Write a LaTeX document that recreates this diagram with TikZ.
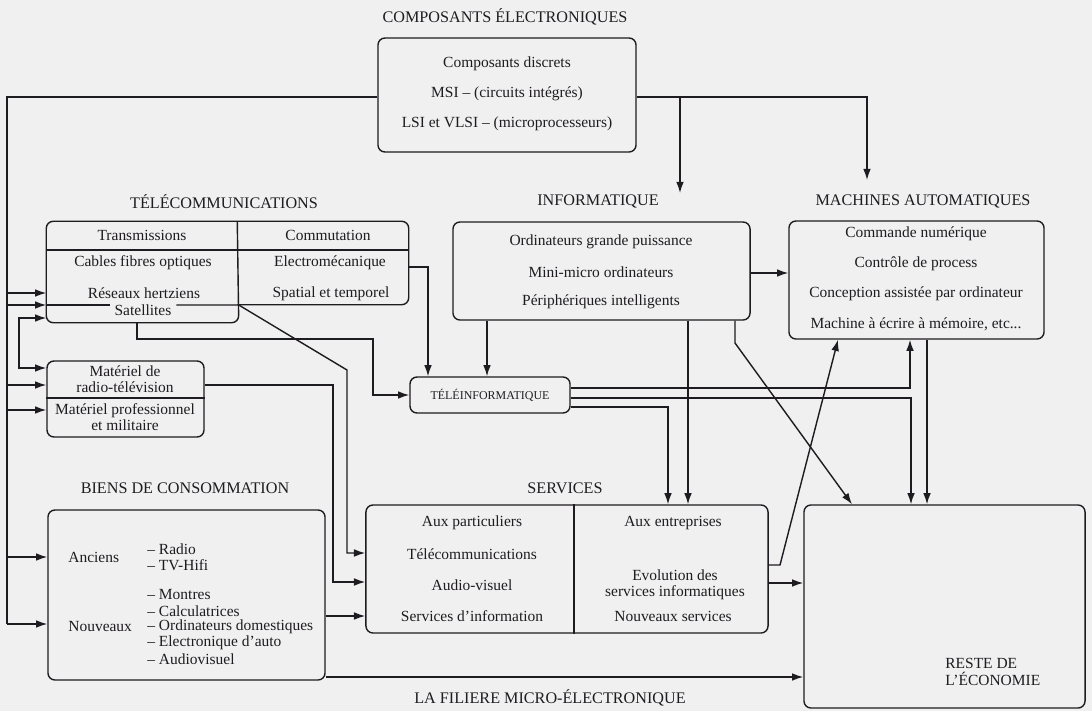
\documentclass[tikz,border=0pt]{standalone}
\usepackage{fontspec}
\setmainfont{Liberation Serif}
\usetikzlibrary{arrows.meta}
\definecolor{bg}{RGB}{240,240,240}
\definecolor{ink}{RGB}{30,28,32}
\tikzset{
every picture/.style={
line width=1pt, color=ink, font=\fontsize{11}{11.5}\selectfont
},
box/.style={draw, rounded corners=5pt, inner sep=0pt},
ttl/.style={font=\fontsize{11.5}{12}\selectfont},
arr/.style={-{Latex[length=8pt,width=5.5pt]}},
arrs/.style={{Latex[length=8pt,width=5.5pt]}-{Latex[length=8pt,width=5.5pt]}}
}

\begin{document}
\begin{tikzpicture}[x=0.025cm, y=-0.025cm]
\path[use as bounding box, fill=bg] (0,0) rectangle (1092,711);

\node[box, minimum width=6.45cm, minimum height=2.85cm] (comp) at (507,95) {};
\node[minimum width=4.775cm, minimum height=2.5cm, inner sep=0pt] (trans) at (142.5,272) {};
\node[minimum width=4.25cm, minimum height=2.05cm, inner sep=0pt] (comm) at (323,263) {};
\node[box, minimum width=7.425cm, minimum height=2.45cm] (inf) at (601.5,271) {};
\node[box, minimum width=6.375cm, minimum height=2.95cm] (mac) at (916.5,280) {};
\node[box, minimum width=4cm, minimum height=0.9cm, font=\fontsize{8.5}{10}\selectfont] (tinfo) at (490,395) {TÉLÉINFORMATIQUE};
\node[box, minimum width=3.925cm, minimum height=1.9cm] (mat) at (125.5,399) {};
\node[box, minimum width=6.925cm, minimum height=4.25cm] (biens) at (186.5,595) {};
\node[box, minimum width=10.05cm, minimum height=3.2cm] (serv) at (567,569) {};
\node[box, minimum width=7.025cm, minimum height=5.075cm] (reste) at (944.5,606.5) {};

\draw[rounded corners=5pt] (comm.south west) -- (comm.south east) -- (comm.north east)
  -- (trans.north west) -- (trans.south west) -- (trans.south east) -- (comm.north west);
\draw (trans.west |- 0,250) -- (comm.east |- 0,250);
\draw (mat.west |- 0,398) -- (mat.east |- 0,398);
\draw (serv.north -| 574,0) -- (serv.south -| 574,0);

\node[ttl] (tcomp) at (505,17) {COMPOSANTS ÉLECTRONIQUES};
\node[ttl] (ttel) at (224,202) {TÉLÉCOMMUNICATIONS};
\node[ttl] (tinf) at (598,201) {INFORMATIQUE};
\node[ttl] (tmac) at (923,201) {MACHINES AUTOMATIQUES};
\node[ttl] (tbie) at (185,488) {BIENS DE CONSOMMATION};
\node[ttl] (tser) at (565,488) {SERVICES};
\node[ttl] (tfil) at (550,698) {LA FILIERE MICRO-ÉLECTRONIQUE};

\node[inner xsep=3pt] (ttr3) at (143,310) {Satellites};

\coordinate (bus) at (7,97);
\coordinate (toinf) at (680,193);
\coordinate (tomac) at (867,180);
\draw (comp.west |- bus) -- (bus) -- (bus |- 0,624);
\foreach \y in {293,305}
  \draw[arr] (bus |- 0,\y) -- (trans.west |- 0,\y);
\foreach \y in {385,410}
  \draw[arr] (bus |- 0,\y) -- (mat.west |- 0,\y);
\foreach \y in {557,624}
  \draw[arr] (bus |- 0,\y) -- (biens.west |- 0,\y);
\draw[arrs] (trans.west |- 0,318) -| (19,368) -- (mat.west |- 0,368);

\draw[arr] (comp.east |- 0,97) -| (tomac);
\draw[arr] (toinf |- 0,97) -- (toinf);

\draw[arr] (comm.east |- 0,267) -| (tinfo.north -| 428,0);
\draw[arr] (trans.south -| 137,0) |- (373,339) |- (tinfo.west);
\draw (trans.west |- 0,305) -- (ttr3.west |- 0,305);
\draw[arr] (ttr3.east |- 0,305) -- (trans.east |- 0,305) -- (347,370) |- (serv.west |- 0,553);
\draw[arr] (mat.east |- 0,385) -| (333,582) -- (serv.west |- 0,582);
\draw[arr] (biens.east |- 0,616) -- (serv.west |- 0,616);
\draw[arr] (biens.east |- 0,677) -- (reste.west |- 0,677);

\draw[arr] (inf.east |- 0,273) -- (mac.west |- 0,273);
\draw[arr] (inf.south -| 487,0) -- (tinfo.north -| 487,0);
\draw[arr] (inf.south -| 688,0) -- (serv.north -| 688,0);
\draw[arr] (inf.south -| 735,0) -- (735,343) -- (reste.north -| 852,0);

\draw[arr] (tinfo.east |- 0,388) -| (mac.south -| 910,0);
\draw[arr] (tinfo.east |- 0,398) -| (reste.north -| 911,0);
\draw[arr] (tinfo.east |- 0,407) -| (serv.north -| 668,0);
\draw[arr] (mac.south -| 927,0) -- (reste.north -| 927,0);
\draw[arr] (serv.east |- 0,565) -- (780,565) -- (mac.south -| 838,0);
\draw[arr] (serv.east |- 0,583) -- (reste.west |- 0,583);

\foreach \t [count=\i] in {Composants discrets, MSI – (circuits intégrés), LSI et VLSI – (microprocesseurs)}
  \node (comp\i) at (507,34+30*\i) {\t};

\node (ttr) at (142,235) {Transmissions};
\node (tco) at (328,235) {Commutation};
\node (ttr1) at (143,263) {Cables fibres optiques};
\node (ttr2) at (144,293) {Réseaux hertziens};
\node (tco1) at (330,263) {Electromécanique};
\node (tco2) at (331,294) {Spatial et temporel};

\foreach \t [count=\i] in {Ordinateurs grande puissance, Mini-micro ordinateurs, Périphériques intelligents}
  \node (inf\i) at (601,212+30*\i) {\t};
\foreach \t [count=\i] in {Commande numérique, Contrôle de process, Conception assistée par ordinateur}
  \node (mac\i) at (916,204+30*\i) {\t};
\node (mac4) at (916,324) {Machine à écrire à mémoire, etc.{}.{}.};

\node[align=center] (matrad) at (125,379) {Matériel de\\radio-télévision};
\node[align=center] (matpro) at (125,417) {Matériel professionnel\\et militaire};

\node[anchor=west] (anc) at (63,557) {Anciens};
\node[anchor=west] (nou) at (63,627) {Nouveaux};
\foreach \t [count=\i] in {Radio, TV-Hifi}
  \node[anchor=west] (anc\i) at (142,533+16*\i) {– \t};
\foreach \t [count=\i] in {Montres, Calculatrices, Ordinateurs domestiques, Electronique d'auto, Audiovisuel}
  \node[anchor=west] (nou\i) at (142,579+16*\i) {– \t};

\foreach \t [count=\i] in {Aux particuliers, Télécommunications, Audio-visuel, Services d'information}
  \node (sp\i) at (472,492+31*\i) {\t};
\node (se1) at (673,523) {Aux entreprises};
\node[align=center] (se2) at (675,585) {Evolution des\\services informatiques};
\node (se3) at (673,616) {Nouveaux services};

\node[align=left, anchor=west] (rtxt) at (940,672) {RESTE DE\\L'ÉCONOMIE};
\end{tikzpicture}
\end{document}
